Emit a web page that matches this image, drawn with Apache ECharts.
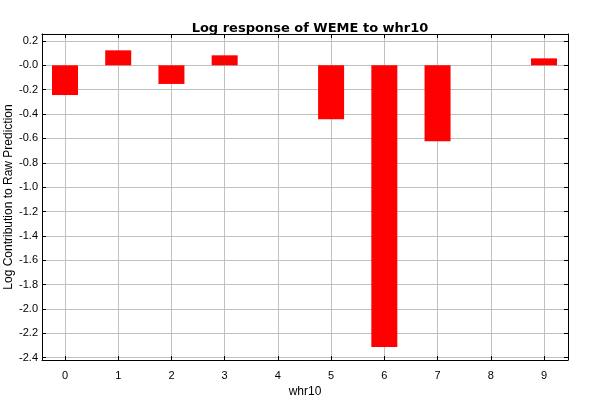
<!DOCTYPE html>
<html>
<head>
<meta charset="utf-8">
<script src="https://cdn.jsdelivr.net/npm/echarts@6/dist/echarts.min.js"></script>
<style>
  html, body { margin: 0; padding: 0; background: #fff; }
  #chart { width: 600px; height: 400px; }
</style>
</head>
<body>
<div id="chart"></div>
<script>
// 数据
var categories = [0, 1, 2, 3, 4, 5, 6, 7, 8, 9]
var values = [-0.244, 0.123, -0.153, 0.082, 0, -0.443, -2.313, -0.624, 0, 0.057]
var yTicks = [0.2, 0, -0.2, -0.4, -0.6, -0.8, -1.0, -1.2, -1.4, -1.6, -1.8, -2.0, -2.2, -2.4]

var font = "Liberation Sans"
var myChart = echarts.init(document.getElementById("chart"))

// 刻度样式 (向内)
var tickStyle = { show: true, inside: true, length: 4, lineStyle: { color: "#000" } }

var option = {
  animation: false,
  title: {
    text: "Log response of WEME to whr10",
    left: 305,
    textAlign: "center",
    top: 17,
    textStyle: { fontFamily: "DejaVu Sans", fontSize: 13, fontWeight: "bold", color: "#000" },
  },
  grid: { left: 42, right: 32, top: 34, bottom: 40, outerBoundsMode: "none", containLabel: false },
  xAxis: [
    {
      type: "value",
      min: -0.432,
      max: 9.451,
      name: "whr10",
      nameLocation: "middle",
      nameGap: 26,
      nameMoveOverlap: false,
      nameTextStyle: { fontFamily: font, fontSize: 12, color: "#000" },
      axisLine: { show: true, onZero: false, lineStyle: { color: "#000", width: 1 } },
      axisTick: Object.assign({ customValues: categories }, tickStyle),
      axisLabel: { customValues: categories, fontFamily: font, fontSize: 11, color: "#000", margin: 10 },
      splitLine: { show: true, lineStyle: { color: "#c0c0c0" } },
    },
    {
      type: "value",
      position: "top",
      min: -0.432,
      max: 9.451,
      axisLine: { show: true, onZero: false, lineStyle: { color: "#000" } },
      axisTick: Object.assign({ customValues: categories }, tickStyle),
      axisLabel: { show: false },
      splitLine: { show: false },
    },
  ],
  yAxis: [
    {
      type: "value",
      min: -2.419,
      max: 0.257,
      name: "Log Contribution to Raw Prediction",
      nameLocation: "middle",
      nameGap: 27,
      nameMoveOverlap: false,
      nameTextStyle: { fontFamily: font, fontSize: 12, color: "#000" },
      axisLine: { show: true, onZero: false, lineStyle: { color: "#000" } },
      axisTick: Object.assign({ customValues: yTicks }, tickStyle),
      axisLabel: {
        customValues: yTicks,
        fontFamily: font,
        fontSize: 11,
        color: "#000",
        margin: 4,
        formatter: function (v) {
          return Math.abs(v) < 1e-9 ? "-0.0" : v.toFixed(1)
        },
      },
      splitLine: { show: true, lineStyle: { color: "#c0c0c0" } },
    },
    {
      type: "value",
      position: "right",
      min: -2.419,
      max: 0.257,
      axisLine: { show: true, onZero: false, lineStyle: { color: "#000" } },
      axisTick: Object.assign({ customValues: yTicks }, tickStyle),
      axisLabel: { show: false },
      splitLine: { show: false },
    },
  ],
  series: [
    {
      type: "bar",
      barWidth: 26,
      itemStyle: { color: "#ff0000" },
      data: categories.map(function (c, i) {
        return [c, values[i]]
      }),
    },
  ],
}
myChart.setOption(option)
</script>
</body>
</html>
